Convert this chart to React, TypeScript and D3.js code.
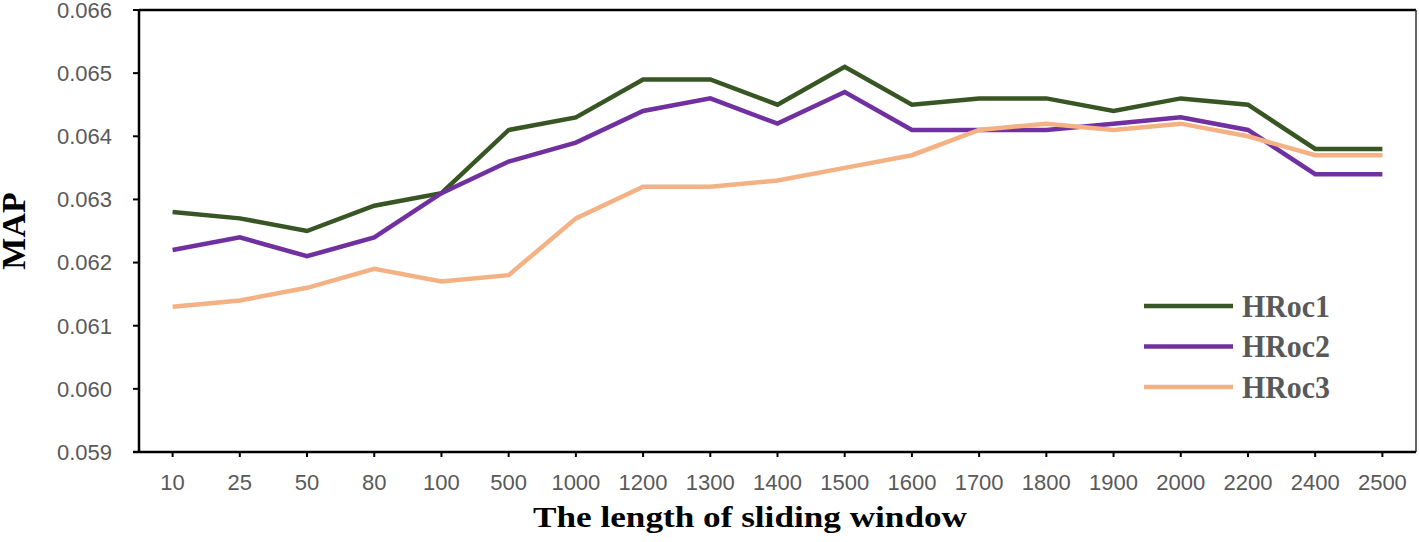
import React from "react";
import * as d3 from "d3";

const categories = ["10","25","50","80","100","500","1000","1200","1300","1400","1500","1600","1700","1800","1900","2000","2200","2400","2500"];
const hroc1 = [0.0628,0.0627,0.0625,0.0629,0.0631,0.0641,0.0643,0.0649,0.0649,0.0645,0.0651,0.0645,0.0646,0.0646,0.0644,0.0646,0.0645,0.0638,0.0638];
const hroc2 = [0.0622,0.0624,0.0621,0.0624,0.0631,0.0636,0.0639,0.0644,0.0646,0.0642,0.0647,0.0641,0.0641,0.0641,0.0642,0.0643,0.0641,0.0634,0.0634];
const hroc3 = [0.0613,0.0614,0.0616,0.0619,0.0617,0.0618,0.0627,0.0632,0.0632,0.0633,0.0635,0.0637,0.0641,0.0642,0.0641,0.0642,0.0640,0.0637,0.0637];
const yTicks = [0.059,0.060,0.061,0.062,0.063,0.064,0.065,0.066];
const seriesNames = ["HRoc1","HRoc2","HRoc3"];
const seriesColors = ["#375623","#7030A0","#F4B183"];

export default function App() {
  const W = 1419, H = 542;
  const L = 139, R = 1416, T = 10, B = 452;
  const x = d3.scaleBand<string>().domain(categories).range([L, R]);
  const y = d3.scaleLinear().domain([0.059, 0.066]).range([B, T]);
  const cx = (c: string) => (x(c) as number) + x.bandwidth() / 2;
  const line = d3.line<number>().x((_, i) => cx(categories[i])).y(v => y(v));
  const series = [hroc1, hroc2, hroc3];
  const sans = "'Liberation Sans', Arial, sans-serif";
  const serif = "'Liberation Serif', 'Times New Roman', serif";
  return (
    <svg width={W} height={H} style={{ position: "absolute", left: 0, top: 0, background: "#fff" }}>
      <rect x={0} y={0} width={W} height={H} fill="#fff" />
      <line x1={L} x2={R} y1={T} y2={T} stroke="#000" strokeWidth={2.5} />
      <line x1={R} x2={R} y1={T} y2={B} stroke="#333" strokeWidth={1.5} />
      <line x1={L} x2={L} y1={T} y2={B} stroke="#000" strokeWidth={2.5} />
      <line x1={L - 6} x2={R} y1={B} y2={B} stroke="#000" strokeWidth={2.5} />
      {yTicks.map(t => (
        <g key={t}>
          <line x1={L - 6} x2={L} y1={y(t)} y2={y(t)} stroke="#000" strokeWidth={2} />
          <text x={112} y={y(t)} dy="0.36em" textAnchor="end" fontFamily={sans} fontSize={22} fill="#595959">{t.toFixed(3)}</text>
        </g>
      ))}
      {categories.map(c => (
        <g key={c}>
          <line x1={cx(c)} x2={cx(c)} y1={B} y2={B + 5} stroke="#000" strokeWidth={2} />
          <text x={cx(c)} y={490} textAnchor="middle" fontFamily={sans} fontSize={22} fill="#595959">{c}</text>
        </g>
      ))}
      {series.map((s, i) => (
        <path key={i} d={line(s) as string} fill="none" stroke={seriesColors[i]} strokeWidth={4.5} strokeLinejoin="miter" />
      ))}
      {seriesNames.map((n, i) => (
        <g key={n}>
          <line x1={1144} x2={1233} y1={306 + i * 40.5} y2={306 + i * 40.5} stroke={seriesColors[i]} strokeWidth={4.5} />
          <text x={1242} y={306 + i * 40.5} dy="0.34em" fontFamily={serif} fontWeight="bold" fontSize={31} fill="#595959" textLength={88} lengthAdjust="spacingAndGlyphs">{n}</text>
        </g>
      ))}
      <text x={533} y={527} fontFamily={serif} fontWeight="bold" fontSize={29} fill="#000" textLength={434} lengthAdjust="spacingAndGlyphs">The length of sliding window</text>
      <text transform="translate(25,231) rotate(-90)" textAnchor="middle" fontFamily={serif} fontWeight="bold" fontSize={34} fill="#000">MAP</text>
    </svg>
  );
}
